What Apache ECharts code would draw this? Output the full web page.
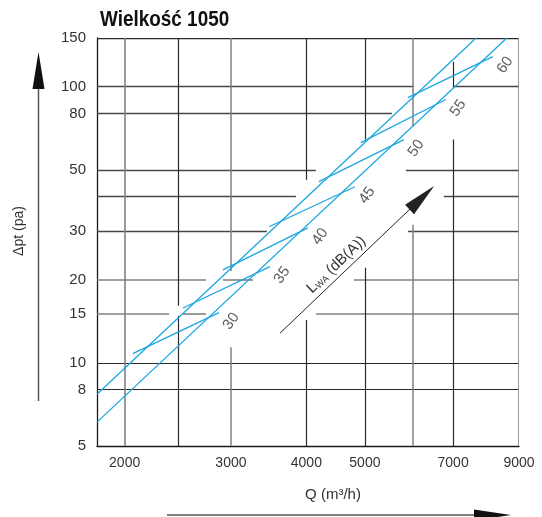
<!DOCTYPE html>
<html><head><meta charset="utf-8">
<script src="https://cdn.jsdelivr.net/npm/echarts@6/dist/echarts.min.js"></script>
<style>html,body{margin:0;padding:0;background:#fff}#c{width:542px;height:517px}</style>
</head><body><div id="c"></div>
<script>
// ---------- data ----------
const xTickLabels = [2000, 3000, 4000, 5000, 7000, 9000];
const yTickLabels = [5, 8, 10, 15, 20, 30, 50, 80, 100, 150];
const lwaLevels   = [30, 35, 40, 45, 50, 55, 60];
const segStartQ   = [2064, 2499, 2910, 3469, 4196, 4923, 5892];
const segStartDp  = [10.8, 15.8, 21.7, 31.1, 45.3, 62.7, 91.3];
const segEndQ     = [2866, 3481, 4023, 4813, 5803, 6810, 8143];
const segEndDp    = [15.2, 22.3, 30.8, 43.4, 64.3, 89.8, 128.5];
const upperLineQ  = [1800, 7640];
const upperLineDp = [7.7, 150];
const lowerLineQ  = [1800, 8590];
const lowerLineDp = [6.1, 150];
const lwaArrowQ   = [3616, 6213];
const lwaArrowDp  = [12.8, 39.6];

// ---------- layout / style ----------
const Q_MIN = 1800, Q_MAX = 9000, DP_MIN = 5, DP_MAX = 150;
const DARK = '#2a2a2a', MID = '#474747', GRAY = '#808080';
const BLUE = '#1ca6e0';
const FONT = "'Liberation Sans Narrow','Liberation Sans',Arial,sans-serif";

// grid lines (with the white gaps of the original drawing)
const hGrid = [
  {v: 8,   c: DARK, w: 1.2, r: [[Q_MIN, Q_MAX]]},
  {v: 10,  c: DARK, w: 1.2, r: [[Q_MIN, Q_MAX]]},
  {v: 15,  c: GRAY, w: 1.6, r: [[Q_MIN, 2369], [2499, 2727], [4147, Q_MAX]]},
  {v: 20,  c: GRAY, w: 1.6, r: [[Q_MIN, 2727], [2910, 3264], [4795, Q_MAX]]},
  {v: 30,  c: MID,  w: 1.3, r: [[Q_MIN, 3441], [5892, Q_MAX]]},
  {v: 40,  c: MID,  w: 1.3, r: [[Q_MIN, 3843], [6757, Q_MAX]]},
  {v: 50,  c: MID,  w: 1.3, r: [[Q_MIN, 4147], [5847, Q_MAX]]},
  {v: 80,  c: MID,  w: 1.3, r: [[Q_MIN, 5543]]},
  {v: 100, c: MID,  w: 1.3, r: [[Q_MIN, 6028], [7000, Q_MAX]]},
  {v: 150, c: DARK, w: 1.3, r: [[Q_MIN, Q_MAX]]}
];
const vGrid = [
  {v: 2000, c: GRAY, w: 1.6, r: [[DP_MIN, DP_MAX]]},
  {v: 2450, c: DARK, w: 1.2, r: [[DP_MIN, 14.8], [16.1, DP_MAX]]},
  {v: 3000, c: GRAY, w: 1.5, r: [[DP_MIN, 11.4], [21.5, DP_MAX]]},
  {v: 4000, c: DARK, w: 1.2, r: [[DP_MIN, 14.3], [46, DP_MAX]]},
  {v: 5000, c: DARK, w: 1.2, r: [[DP_MIN, 22.1], [64.3, DP_MAX]]},
  {v: 6000, c: GRAY, w: 1.5, r: [[DP_MIN, 31.6], [71.6, DP_MAX]]},
  {v: 7000, c: DARK, w: 1.2, r: [[DP_MIN, 64.3], [99.2, 123]]},
  {v: 9000, c: GRAY, w: 1.6, r: [[DP_MIN, DP_MAX]]}
];
const gridLinesData = [];
hGrid.forEach(g => g.r.forEach(([a, b]) => gridLinesData.push({coords: [[a, g.v], [b, g.v]], lineStyle: {color: g.c, width: g.w}})));
vGrid.forEach(g => g.r.forEach(([a, b]) => gridLinesData.push({coords: [[g.v, a], [g.v, b]], lineStyle: {color: g.c, width: g.w}})));

const blueLine = (qs, dps) => ({
  type: 'line', z: 3, silent: true, symbol: 'none', animation: false,
  data: qs.map((q, i) => [q, dps[i]]),
  lineStyle: {color: BLUE, width: 1.3}
});

const series = [
  {type: 'lines', coordinateSystem: 'cartesian2d', z: 1, silent: true, animation: false,
   lineStyle: {opacity: 1}, data: gridLinesData},
  blueLine(upperLineQ, upperLineDp),
  blueLine(lowerLineQ, lowerLineDp)
];
lwaLevels.forEach((lv, i) => series.push(blueLine([segStartQ[i], segEndQ[i]], [segStartDp[i], segEndDp[i]])));
series.push({
  type: 'scatter', z: 4, silent: true, animation: false, symbolSize: 0,
  data: segEndQ.map((q, i) => [q, segEndDp[i]]),
  label: {
    show: true, position: 'inside', offset: [0, 15], rotate: 55,
    formatter: p => String(lwaLevels[p.dataIndex]),
    fontFamily: FONT, fontSize: 15, color: '#333',
    backgroundColor: '#fff', padding: [1, 2]
  },
  markLine: {
    silent: true, animation: false, z: 5,
    symbol: ['none', 'triangle'], symbolSize: [13, 34],
    lineStyle: {color: '#222', width: 1, type: 'solid'},
    label: {
      show: true, position: 'insideMiddleTop', distance: 3,
      formatter: '{a|L}{b|WA}{a| (dB(A))}', padding: [0, 20, 0, 0],
      rich: {
        a: {fontFamily: FONT, fontSize: 15, color: '#333', verticalAlign: 'bottom', lineHeight: 18},
        b: {fontFamily: FONT, fontSize: 9, color: '#333', verticalAlign: 'bottom', lineHeight: 14}
      }
    },
    data: [[{coord: [lwaArrowQ[0], lwaArrowDp[0]]}, {coord: [lwaArrowQ[1], lwaArrowDp[1]]}]]
  }
});

const chart = echarts.init(document.getElementById('c'), null, {renderer: 'canvas'});
chart.setOption({
  backgroundColor: '#fff',
  animation: false,
  grid: {left: 97, right: 23, top: 38, bottom: 71, containLabel: false},
  xAxis: {
    type: 'log', logBase: 10, min: Q_MIN, max: Q_MAX,
    axisLine: {show: true, lineStyle: {color: '#1a1a1a', width: 1.3}},
    axisTick: {show: false}, splitLine: {show: false}, minorSplitLine: {show: false},
    axisLabel: {customValues: xTickLabels, formatter: v => String(v), margin: 10,
      fontFamily: FONT, fontSize: 14, color: '#333'}
  },
  yAxis: {
    type: 'log', logBase: 10, min: DP_MIN, max: DP_MAX,
    axisLine: {show: true, lineStyle: {color: '#1a1a1a', width: 1.3}},
    axisTick: {show: false}, splitLine: {show: false}, minorSplitLine: {show: false},
    axisLabel: {customValues: yTickLabels, formatter: v => String(v), margin: 11,
      fontFamily: FONT, fontSize: 15, color: '#333'}
  },
  graphic: [
    {type: 'text', x: 100, y: 20, scaleX: 0.86,
     style: {text: 'Wielkość 1050', fontFamily: FONT, fontSize: 22, fontWeight: 'bold', fill: '#111',
             align: 'left', verticalAlign: 'middle', textAlign: 'left', textVerticalAlign: 'middle'}},
    {type: 'text', x: 19, y: 231, rotation: Math.PI / 2,
     style: {text: 'Δpt (pa)', fontFamily: FONT, fontSize: 14, fill: '#333',
             align: 'center', verticalAlign: 'middle', textAlign: 'center', textVerticalAlign: 'middle'}},
    {type: 'text', x: 333, y: 495,
     style: {text: 'Q (m³/h)', fontFamily: FONT, fontSize: 15, fill: '#333',
             align: 'center', verticalAlign: 'middle', textAlign: 'center', textVerticalAlign: 'middle'}},
    {type: 'line', shape: {x1: 38.5, y1: 401, x2: 38.5, y2: 88}, style: {stroke: '#555', lineWidth: 1.5}},
    {type: 'polygon', shape: {points: [[38.5, 52], [44.5, 89], [32.5, 89]]}, style: {fill: '#111'}},
    {type: 'line', shape: {x1: 167, y1: 515, x2: 476, y2: 515}, style: {stroke: '#555', lineWidth: 1.5}},
    {type: 'polygon', shape: {points: [[474, 509.5], [511, 515], [474, 520.5]]}, style: {fill: '#111'}}
  ],
  series: series
});
</script></body></html>
